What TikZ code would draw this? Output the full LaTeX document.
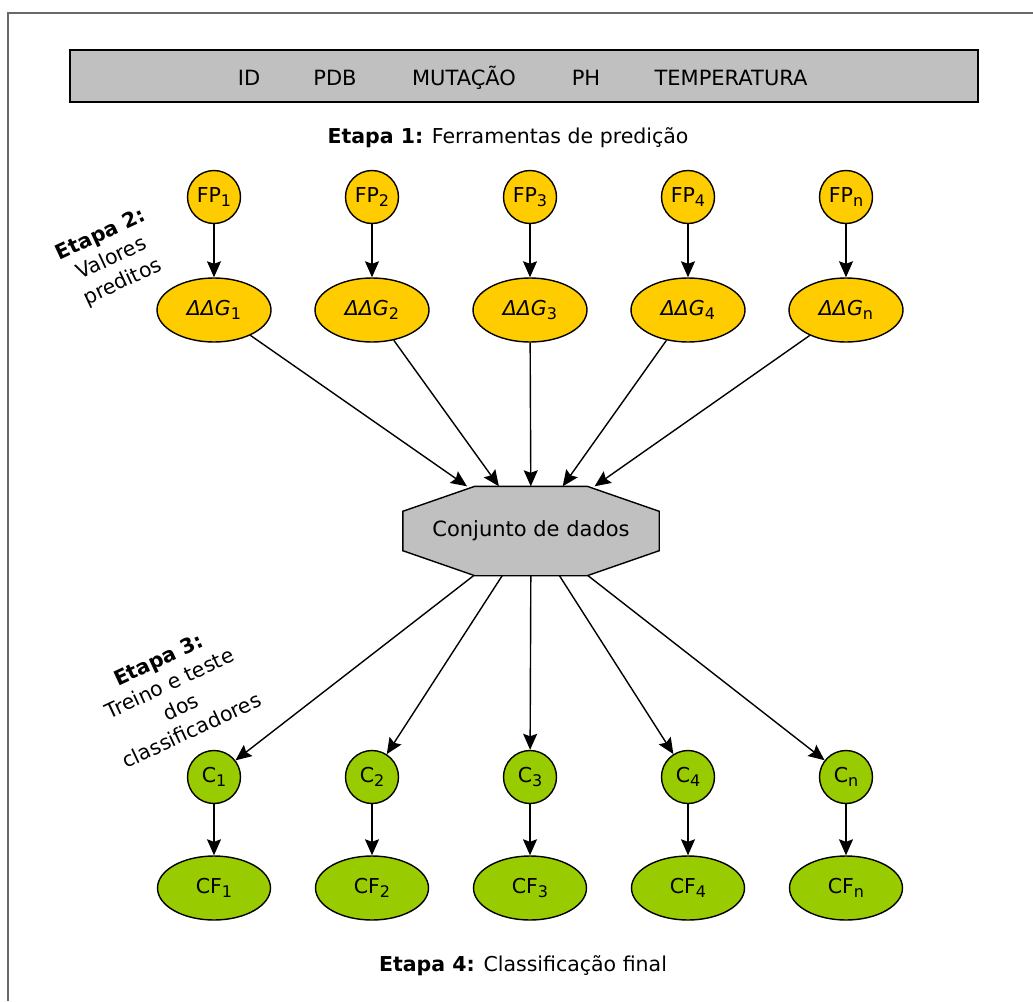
\documentclass[tikz,border=0pt]{standalone}
\usepackage{fontspec}
\setmainfont{DejaVu Sans}
\usetikzlibrary{shapes.geometric,arrows.meta,backgrounds}

\definecolor{fpyellow}{RGB}{255,204,0}
\definecolor{clgreen}{RGB}{153,204,0}
\definecolor{boxgray}{RGB}{192,192,192}
\definecolor{framegray}{RGB}{105,105,105}

% lowered subscript used in the node labels
\newcommand\lsub[1]{\raisebox{-0.4ex}{\fontsize{16}{16}\selectfont #1}}

\begin{document}
\begin{tikzpicture}[x=1pt,y=-1pt,
  every node/.style={font=\fontsize{20.5}{24}\selectfont, inner sep=0pt},
  bigtext/.style={font=\fontsize{21}{25}\selectfont},
  headerbox/.style={draw=black, line width=1.8pt, fill=boxgray,
    minimum width=908pt, minimum height=52pt},
  tool/.style={circle, draw=black, line width=1.4pt, fill=fpyellow, minimum size=53pt},
  pred/.style={ellipse, draw=black, line width=1.4pt, fill=fpyellow,
    minimum width=114pt, minimum height=64pt},
  clf/.style={circle, draw=black, line width=1.4pt, fill=clgreen, minimum size=53pt},
  final/.style={ellipse, draw=black, line width=1.4pt, fill=clgreen,
    minimum width=113pt, minimum height=64pt},
  dataset/.style={rectangle, minimum width=256pt, minimum height=89pt},
  link/.style={draw=black, line width=1.4pt,
    -{Stealth[length=16pt, width=14pt, inset=2.5pt]}},
  stage/.style={align=center, rotate=25, font=\fontsize{20.5}{26}\selectfont},
]
\useasboundingbox (0,0) rectangle (1033,1001);

% outer frame (top and left sides)
\draw[framegray, line width=1.6pt] (1033,13) -- (8,13) -- (8,1001);

% header with the input fields
\node[headerbox] (hdr) at (524,76) {};
\node[bigtext, anchor=base] (fid)   at (249,85) {ID};
\node[bigtext, anchor=base] (fpdb)  at (335,85) {PDB};
\node[bigtext, anchor=base] (fmut)  at (464,85) {MUTAÇÃO};
\node[bigtext, anchor=base] (fph)   at (586,85) {PH};
\node[bigtext, anchor=base] (ftemp) at (731,85) {TEMPERATURA};

\node[anchor=base] (etapa1) at (508,143) {\textbf{Etapa 1:} Ferramentas de predição};

% stage labels on the left
\node[stage] (etapa2) at (112,259) {\textbf{Etapa 2:}\\Valores\\preditos};
\node[stage] (etapa3) at (175,695) {\textbf{Etapa 3:}\\Treino e teste\\dos\\classificadores};

% central data set
\node[dataset, bigtext] (oct) at (531,531) {Conjunto de dados};
\begin{scope}[on background layer]
  \filldraw[fill=boxgray, draw=black, line width=1.4pt]
    ([xshift=72pt]oct.north west) -- ([xshift=-72pt]oct.north east)
    -- ([yshift=-25pt]oct.north east) -- ([yshift=25pt]oct.south east)
    -- ([xshift=-72pt]oct.south east) -- ([xshift=72pt]oct.south west)
    -- ([yshift=25pt]oct.south west) -- ([yshift=-25pt]oct.north west) -- cycle;
\end{scope}

% prediction tools, predicted values, classifiers and final classes
\foreach \i/\s/\x in {1/1/214, 2/2/372, 3/3/530, 4/4/688, 5/n/846} {
  \node[tool]  (fp\i) at (\x,197) {FP\lsub{\s}};
  \node[pred]  (dg\i) at (\x,310) {{\itshape ΔΔG}\lsub{\s}};
  \node[clf]   (c\i)  at (\x,777) {C\lsub{\s}};
  \node[final] (cf\i) at (\x,888) {CF\lsub{\s}};
  \draw[link] (fp\i) -- (dg\i);
  \draw[link] (dg\i) -- (oct);
  \draw[link] (oct) -- (c\i);
  \draw[link] (c\i) -- (cf\i);
}

\node[anchor=base] (etapa4) at (523,971) {\textbf{Etapa 4:} Classificação final};
\end{tikzpicture}
\end{document}
